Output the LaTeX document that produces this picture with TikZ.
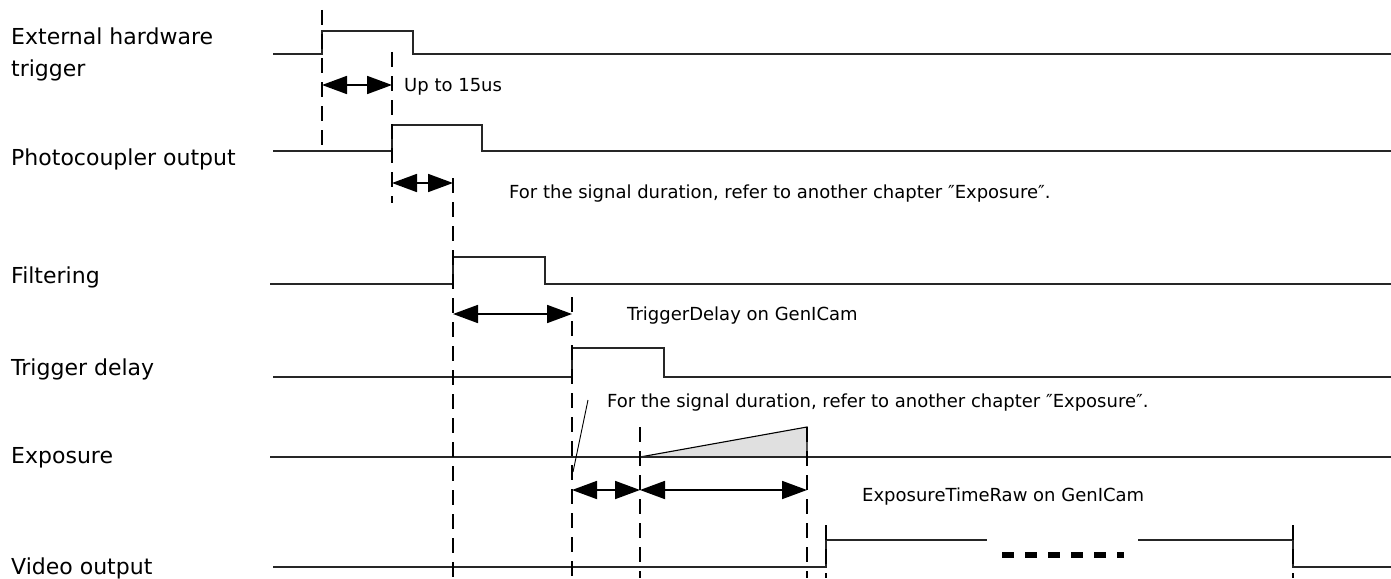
\documentclass[tikz,border=0pt]{standalone}
\usepackage{fontspec}
\setmainfont{DejaVu Sans}
\usetikzlibrary{arrows.meta}
\newcommand\labsize{\fontsize{22pt}{26pt}\selectfont}
\newcommand\notesize{\fontsize{18pt}{21pt}\selectfont}
\tikzset{
  sig/.style={line width=1.3pt, black!85},
  guide/.style={line width=2pt, dash pattern=on 15pt off 9pt},
  dimarrow/.style={line width=1.8pt, {Triangle[length=25pt,width=18pt]}-{Triangle[length=25pt,width=18pt]}},
  lab/.style={font=\labsize, anchor=base west, inner sep=0pt},
  note/.style={font=\notesize, anchor=base west, inner sep=0pt},
  leader/.style={line width=0.9pt},
  ramp/.style={fill=black!12, draw=black, line width=1.1pt}
}
\begin{document}
\begin{tikzpicture}[x=1pt,y=-1pt]
\useasboundingbox (0,0) rectangle (1391,578);
% labels
\node[lab] (l1) at (11,45) {External hardware};
\node[lab] (l1b) at (11,76) {trigger};
\node[lab] (l2) at (11,165) {Photocoupler output};
\node[lab] (l3) at (11,283) {Filtering};
\node[lab] (l4) at (11,375) {Trigger delay};
\node[lab] (l5) at (11,463) {Exposure};
\node[lab] (l6) at (11,574) {Video output};
% waveforms
\draw[sig] (273,54) -- (322,54) -- (322,31) -- (413,31) -- (413,54) -- (1391,54);
\draw[sig] (273,151) -- (392,151) -- (392,125) -- (482,125) -- (482,151) -- (1391,151);
\draw[sig] (270,284) -- (453,284) -- (453,257) -- (545,257) -- (545,284) -- (1391,284);
\draw[sig] (273,377) -- (572,377) -- (572,348) -- (664,348) -- (664,377) -- (1391,377);
\draw[ramp] (640,457) -- (807,427) -- (807,457) -- cycle;
\draw[sig] (270,457) -- (1391,457);
\draw[sig] (273,567) -- (826,567) -- (826,540) -- (987,540);
\draw[sig] (1138,540) -- (1293,540) -- (1293,567) -- (1391,567);
\draw[line width=5.5pt, dash pattern=on 12pt off 11pt] (1002,555) -- (1124,555);
% guide coordinates
\coordinate (g1t) at (322,10);  \coordinate (g1b) at (322,151);
\coordinate (g2t) at (392,52);  \coordinate (g2b) at (392,203);
\coordinate (g3t) at (453,178); \coordinate (g3b) at (453,578);
\coordinate (g4t) at (572,297); \coordinate (g4b) at (572,578);
\coordinate (g5t) at (640,427); \coordinate (g5b) at (640,578);
\coordinate (g6t) at (807,427); \coordinate (g6b) at (807,578);
\coordinate (g7t) at (826,525); \coordinate (g7b) at (826,578);
\coordinate (g8t) at (1293,525); \coordinate (g8b) at (1293,578);
\foreach \g in {1,...,8} {\draw[guide] (g\g t) -- (g\g b);}
% dimension arrows
\coordinate (d1a) at (322,85);  \coordinate (d1b) at (392,85);
\coordinate (d2a) at (392,183); \coordinate (d2b) at (453,183);
\coordinate (d3a) at (453,314); \coordinate (d3b) at (572,314);
\coordinate (d4a) at (572,490); \coordinate (d4b) at (640,490);
\coordinate (d5a) at (640,490); \coordinate (d5b) at (807,490);
\draw[dimarrow] (d1a) -- (d1b);
\draw[dimarrow] (d2a) -- (d2b);
\draw[dimarrow] (d3a) -- (d3b);
\draw[dimarrow] (d4a) -- (d4b);
\draw[dimarrow] (d5a) -- (d5b);
% notes
\node[note] (n1) at (404,91) {Up to 15us};
\node[note] (n2) at (509,198) {For the signal duration, refer to another chapter ″Exposure″.};
\node[note] (n3) at (627,320) {TriggerDelay on GenICam};
\node[note] (n4) at (607,407) {For the signal duration, refer to another chapter ″Exposure″.};
\node[note] (n5) at (862,501) {ExposureTimeRaw on GenICam};
\coordinate (ld) at (573,472);
\draw[leader] (n4.base west) ++(-19,-7) -- (ld);
\end{tikzpicture}
\end{document}
